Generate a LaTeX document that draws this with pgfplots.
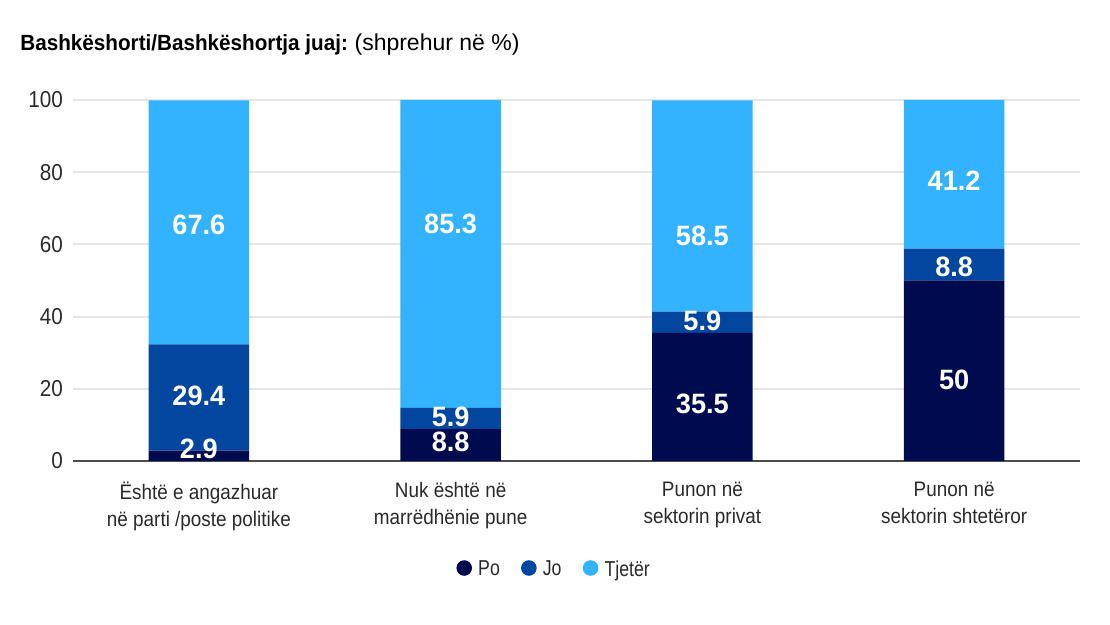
\documentclass[border=0pt]{standalone}
\usepackage{pgfplots}
\pgfplotsset{compat=1.18}
\usepackage{fontspec}
\setmainfont{Liberation Sans}[FakeStretch=0.9]
\newfontfamily\legfont{Liberation Sans}[FakeStretch=0.82]
\newfontfamily\titlebold{Liberation Sans Bold}[FakeStretch=0.94]
\newfontfamily\titlereg{Liberation Sans}
\newfontfamily\barfont{Liberation Sans Bold}[FakeStretch=0.97]
\definecolor{po}{HTML}{000B4F}
\definecolor{jo}{HTML}{0346A0}
\definecolor{tj}{HTML}{33B2FD}
\definecolor{txt}{HTML}{2A2A2A}
\begin{document}
\begin{tikzpicture}
\useasboundingbox (0,0) rectangle (555pt,312.5pt);
\node[anchor=base west, inner sep=0pt, text=black] at (10pt,287pt) {{\titlebold\fontsize{11}{13}\selectfont Bashkëshorti/Bashkëshortja juaj:} {\titlereg\fontsize{11.5}{13}\selectfont (shprehur në \%)}};
\begin{axis}[
  at={(36.5pt,82pt)}, anchor=south west,
  scale only axis, width=503.5pt, height=180.5pt,
  ybar stacked, bar width=0.4,
  xmin=-0.5, xmax=3.5, ymin=0, ymax=100,
  xtick={0,1,2,3},
  xticklabels={{Është e angazhuar\\në parti /poste politike},{Nuk është në\\marrëdhënie pune},{Punon në\\sektorin privat},{Punon në\\sektorin shtetëror}},
  xticklabel style={align=center, text=txt, font=\fontsize{10.5}{13.5}\selectfont, yshift=-7pt},
  ytick={0,20,40,60,80,100},
  yticklabel style={text=txt, font=\fontsize{11.5}{12}\selectfont, xshift=-1.5pt},
  /pgf/number format/assume math mode=true,
  ymajorgrids, grid style={draw=black!10, line width=1pt},
  major tick length=0pt,
  axis x line*=bottom, axis y line*=left,
  y axis line style={draw=none},
  x axis line style={draw=black!70, line width=0.8pt, -},
  legend columns=3,
  legend style={at={(0.4787,-0.302)}, anchor=center, draw=none, fill=none,
    font=\legfont\fontsize{10.8}{12}\selectfont, text=txt,
    /tikz/every even column/.append style={column sep=8.5pt}},
]
\addplot[fill=po, draw=none, legend image code/.code={\fill[po] (0pt,0.1em) circle (3.9pt); \path (5pt,0) (-4pt,0);}] coordinates {(0,2.9) (1,8.8) (2,35.5) (3,50)};
\addplot[fill=jo, draw=none, legend image code/.code={\fill[jo] (0pt,0.1em) circle (3.9pt); \path (5pt,0) (-4pt,0);}] coordinates {(0,29.4) (1,5.9) (2,5.9) (3,8.8)};
\addplot[fill=tj, draw=none, legend image code/.code={\fill[tj] (0pt,0.1em) circle (3.9pt); \path (5pt,0) (-4pt,0);}] coordinates {(0,67.6) (1,85.3) (2,58.5) (3,41.2)};
\legend{Po,Jo,Tjetër}
\end{axis}
\begin{axis}[
  at={(36.5pt,82pt)}, anchor=south west,
  scale only axis, width=503.5pt, height=180.5pt,
  xmin=-0.5, xmax=3.5, ymin=0, ymax=100,
  hide axis, clip=false,
]
\addplot[only marks, mark=none, nodes near coords, point meta=explicit symbolic,
  nodes near coords style={anchor=center, inner sep=0pt, text=white, font=\barfont\fontsize{14}{15}\selectfont}]
  table[meta=label] {
x y label
0 3.4 2.9
0 18.0 29.4
0 65.4 67.6
1 5.3 8.8
1 12.3 5.9
1 65.6 85.3
2 15.8 35.5
2 38.8 5.9
2 62.3 58.5
3 22.4 50
3 53.7 8.8
3 77.6 41.2
};
\end{axis}
\end{tikzpicture}
\end{document}
